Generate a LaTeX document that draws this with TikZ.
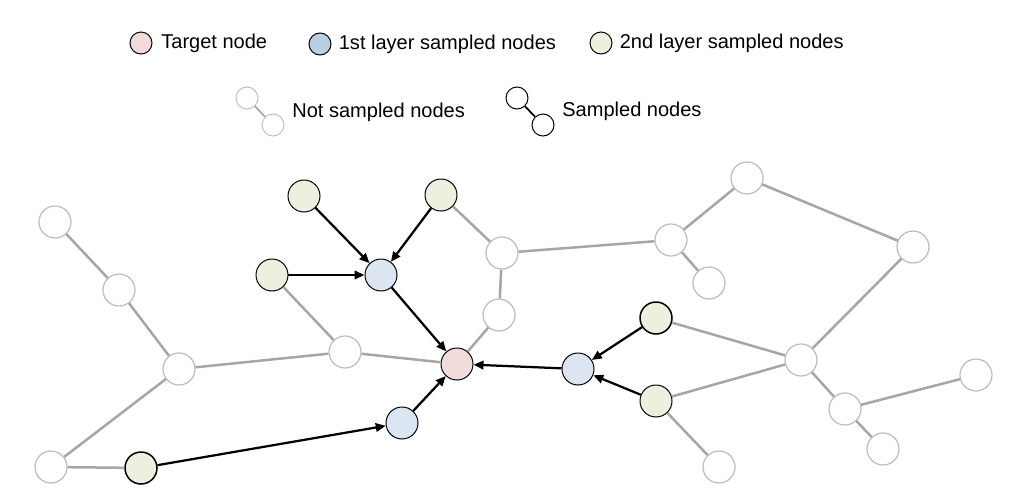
\documentclass[tikz,border=0pt]{standalone}
\usepackage{fontspec}
\setmainfont{Liberation Sans}
\usetikzlibrary{arrows.meta,positioning}

\definecolor{tgtfill}{HTML}{F2DCDB}
\definecolor{firstfill}{HTML}{DCE6F2}
\definecolor{firstlegend}{HTML}{B9CDE5}
\definecolor{secondfill}{HTML}{EBF1DE}
\definecolor{edgegray}{HTML}{A6A6A6}
\definecolor{nodegray}{HTML}{BFBFBF}

\tikzset{
  gnode/.style={circle, minimum size=0.64cm, inner sep=0pt, draw=nodegray, line width=0.025cm, fill=white},
  snode/.style={circle, minimum size=0.64cm, inner sep=0pt, draw=black, line width=0.02cm},
  lnode/.style={circle, minimum size=0.44cm, inner sep=0pt, line width=0.02cm},
  gedge/.style={draw=edgegray, line width=0.05cm},
  sedge/.style={draw=black, line width=0.045cm, -{Triangle[length=0.2cm,width=0.17cm]}},
  lbl/.style={inner sep=0pt, anchor=west, font=\fontsize{11.4}{13.7}\selectfont}
}

\begin{document}
\begin{tikzpicture}[x=0.02cm,y=-0.02cm]
      \useasboundingbox (0,0) rectangle (1012,504);

      % legend
      \node[lnode, draw=black, fill=tgtfill] (lt) at (141,43) {};
      \node[lbl, right=0.17cm of lt] (ltt) {Target node};
      \node[lnode, draw=black, fill=firstlegend] (lf) at (320,44) {};
      \node[lbl, right=0.14cm of lf] (lft) {1st layer sampled nodes};
      \node[lnode, draw=black, fill=secondfill] (ls) at (601,43) {};
      \node[lbl, right=0.14cm of ls] (lst) {2nd layer sampled nodes};

      \node[lnode, draw=nodegray] (ln1) at (247,98) {};
      \node[lnode, draw=nodegray] (ln2) at (273,125) {};
      \draw[gedge, line width=0.035cm] (ln1) -- (ln2);
      \node[lbl] (lnt) at (292,112) {Not sampled nodes};
      \node[lnode, draw=black] (lp1) at (517,98) {};
      \node[lnode, draw=black] (lp2) at (543,125) {};
      \draw[line width=0.035cm] (lp1) -- (lp2);
      \node[lbl] (lpt) at (562,111) {Sampled nodes};

      % not sampled nodes
      \node[gnode] (u1)  at (55,222)  {};
      \node[gnode] (u2)  at (119,290) {};
      \node[gnode] (u3)  at (179,369) {};
      \node[gnode] (u4)  at (51,467)  {};
      \node[gnode] (u5)  at (345,352) {};
      \node[gnode] (u6)  at (502,253) {};
      \node[gnode] (u7)  at (499,315) {};
      \node[gnode] (u8)  at (671,240) {};
      \node[gnode] (u9)  at (747,178) {};
      \node[gnode] (u10) at (709,283) {};
      \node[gnode] (u11) at (913,247) {};
      \node[gnode] (u12) at (801,360) {};
      \node[gnode] (u13) at (845,409) {};
      \node[gnode] (u14) at (976,375) {};
      \node[gnode] (u15) at (883,449) {};
      \node[gnode] (u16) at (719,467) {};

      % sampled nodes
      \node[snode, fill=tgtfill]    (tgt) at (457,364) {};
      \node[snode, fill=firstfill]  (f1)  at (381,275) {};
      \node[snode, fill=firstfill]  (f2)  at (402,423) {};
      \node[snode, fill=firstfill]  (f3)  at (578,369) {};
      \node[snode, fill=secondfill] (s1)  at (304,196) {};
      \node[snode, fill=secondfill] (s2)  at (441,195) {};
      \node[snode, fill=secondfill] (s3)  at (272,275) {};
      \node[snode, fill=secondfill, line width=0.03cm] (s4) at (141,468) {};
      \node[snode, fill=secondfill, line width=0.03cm] (s5) at (656,318) {};
      \node[snode, fill=secondfill] (s6)  at (656,401) {};

      % gray edges
      \draw[gedge] (u1) -- (u2);
      \draw[gedge] (u2) -- (u3);
      \draw[gedge] (u3) -- (u4);
      \draw[gedge] (u4) -- (s4);
      \draw[gedge] (u3) -- (u5);
      \draw[gedge] (u5) -- (s3);
      \draw[gedge] (u5) -- (tgt);
      \draw[gedge] (tgt) -- (u7);
      \draw[gedge] (u7) -- (u6);
      \draw[gedge] (u6) -- (s2);
      \draw[gedge] (u6) -- (u8);
      \draw[gedge] (u8) -- (u9);
      \draw[gedge] (u8) -- (u10);
      \draw[gedge] (u9) -- (u11);
      \draw[gedge] (u11) -- (u12);
      \draw[gedge] (u12) -- (s5);
      \draw[gedge] (u12) -- (s6);
      \draw[gedge] (u12) -- (u13);
      \draw[gedge] (u13) -- (u14);
      \draw[gedge] (u13) -- (u15);
      \draw[gedge] (s6) -- (u16);

      % sampling arrows
      \draw[sedge] (s1) -- (f1);
      \draw[sedge] (s2) -- (f1);
      \draw[sedge] (s3) -- (f1);
      \draw[sedge] (f1) -- (tgt);
      \draw[sedge] (s4) -- (f2);
      \draw[sedge] (f2) -- (tgt);
      \draw[sedge] (s5) -- (f3);
      \draw[sedge] (s6) -- (f3);
      \draw[sedge] (f3) -- (tgt);
\end{tikzpicture}
\end{document}
